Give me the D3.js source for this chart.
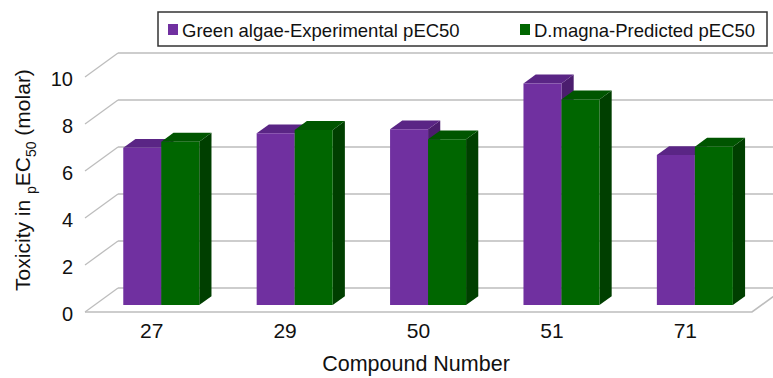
<!DOCTYPE html>
<html>
<head>
<meta charset="utf-8">
<script src="https://cdn.jsdelivr.net/npm/d3@7"></script>
<style>
  html, body { margin: 0; padding: 0; background: #fff; }
  svg { display: block; font-family: "Liberation Sans", Arial, sans-serif; }
</style>
</head>
<body>
<svg id="chart" width="773" height="378"></svg>
<script>
// ---- data ----
const categories = ["27", "29", "50", "51", "71"];
const seriesNames = ["Green algae-Experimental pEC50", "D.magna-Predicted pEC50"];
const algaeExperimental = [6.69, 7.31, 7.48, 9.43, 6.38];
const magnaPredicted = [6.95, 7.45, 7.05, 8.75, 6.74];
const yTicks = [0, 2, 4, 6, 8, 10];

// ---- layout ----
const svg = d3.select("#chart");
const front = { left: 85, right: 752, bottom: 312, top: 77 };
const depth = { dx: 33, dy: -24 };
const x = d3.scaleBand().domain(categories).range([front.left, front.right]).paddingInner(0).paddingOuter(0);
const y = d3.scaleLinear().domain([0, 10]).range([front.bottom, front.top]);
const proj = (px, v, z) => [px + depth.dx * z, y(v) + depth.dy * z];

const gridColor = "#bdbdbd";
const series = [
  { name: seriesNames[0], values: algaeExperimental, front: "#7030a0", top: "#5a2585", side: "#4b1d6e" },
  { name: seriesNames[1], values: magnaPredicted, front: "#006600", top: "#005500", side: "#003f00" }
];

// back wall gridlines + left diagonals
const g = svg.append("g");
yTicks.forEach(v => {
  const b0 = proj(front.left, v, 1);
  const b1 = proj(front.right, v, 1);
  g.append("line").attr("x1", b0[0]).attr("y1", b0[1]).attr("x2", b1[0]).attr("y2", b1[1])
    .attr("stroke", gridColor).attr("stroke-width", 1.5);
  const f0 = proj(front.left, v, 0);
  g.append("line").attr("x1", f0[0]).attr("y1", f0[1]).attr("x2", b0[0]).attr("y2", b0[1])
    .attr("stroke", gridColor).attr("stroke-width", 1.3);
});
// floor front edge and right edge
{
  const a = proj(front.left, 0, 0), b = proj(front.right, 0, 0), c = proj(front.right, 0, 1);
  g.append("path").attr("d", `M${a}L${b}L${c}`).attr("fill", "none")
    .attr("stroke", gridColor).attr("stroke-width", 1.6);
}

// bars
const z0 = 0.29, z1 = 0.66;
const barW = 38;
const barsG = svg.append("g");
categories.forEach((cat, i) => {
  const cx = x(cat) + x.bandwidth() / 2;
  series.forEach((s, k) => {
    const x0 = cx - barW + k * barW;
    const x1 = x0 + barW;
    const v = s.values[i];
    const fbl = proj(x0, 0, z0), fbr = proj(x1, 0, z0), ftl = proj(x0, v, z0), ftr = proj(x1, v, z0);
    const btl = proj(x0, v, z1), btr = proj(x1, v, z1), bbr = proj(x1, 0, z1);
    barsG.append("path").attr("d", `M${fbr}L${bbr}L${btr}L${ftr}Z`).attr("fill", s.side);
    barsG.append("path").attr("d", `M${ftl}L${btl}L${btr}L${ftr}Z`).attr("fill", s.top);
    barsG.append("path").attr("d", `M${fbl}L${fbr}L${ftr}L${ftl}Z`).attr("fill", s.front);
  });
});

// y axis tick labels (front plane)
const yAxis = d3.axisLeft(y).tickValues(yTicks).tickSize(0).tickPadding(0).tickFormat(d3.format("d"));
const yg = svg.append("g").attr("transform", `translate(${front.left - 12},2)`).call(yAxis);
yg.select(".domain").remove();
yg.selectAll("text").attr("font-size", 20).attr("fill", "#111").attr("font-family", "Liberation Sans, Arial, sans-serif");

// x axis category labels
const xAxis = d3.axisBottom(x).tickSize(0).tickPadding(0);
const xg = svg.append("g").attr("transform", `translate(0,${front.bottom + 11})`).call(xAxis);
xg.select(".domain").remove();
xg.selectAll("text").attr("font-size", 21).attr("fill", "#111").attr("font-family", "Liberation Sans, Arial, sans-serif");

// axis titles
svg.append("text").attr("x", 416).attr("y", 371).attr("text-anchor", "middle")
  .attr("font-size", 21.5).attr("fill", "#111").text("Compound Number");

const yt = svg.append("text").attr("transform", "translate(30,180) rotate(-90)")
  .attr("text-anchor", "middle").attr("font-size", 21).attr("fill", "#111");
yt.append("tspan").text("Toxicity in ");
yt.append("tspan").attr("font-size", 14).attr("dy", 6).text("p");
yt.append("tspan").attr("dy", -6).text("EC");
yt.append("tspan").attr("font-size", 14).attr("dy", 6).text("50");
yt.append("tspan").attr("dy", -6).text(" (molar)");

// legend
const lg = svg.append("g");
lg.append("rect").attr("x", 158).attr("y", 12).attr("width", 609).attr("height", 34)
  .attr("fill", "#fff").attr("stroke", "#333").attr("stroke-width", 1.5);
const legendX = [168, 520];
series.forEach((s, k) => {
  lg.append("rect").attr("x", legendX[k]).attr("y", 24).attr("width", 10).attr("height", 11).attr("fill", s.front);
  lg.append("text").attr("x", legendX[k] + 14).attr("y", 36.5).attr("font-size", 18.5)
    .attr("fill", "#111").text(s.name);
});
</script>
</body>
</html>
